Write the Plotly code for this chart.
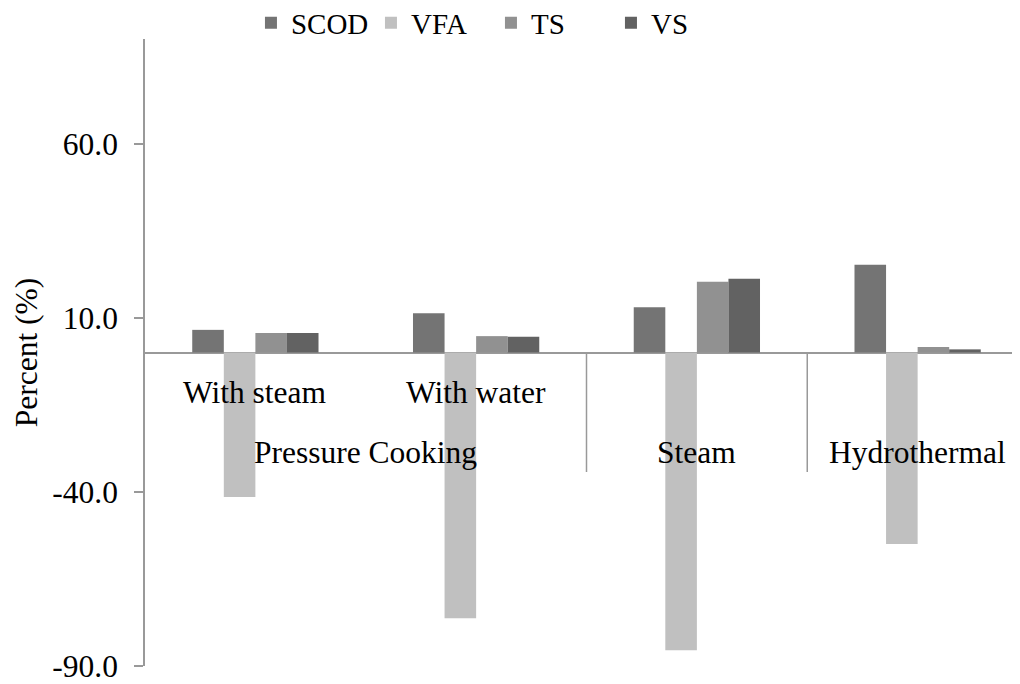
import plotly.graph_objects as go

categories = ["With steam", "With water", "Steam", "Hydrothermal"]
group_labels = ["Pressure Cooking", "Steam", "Hydrothermal"]
scod = [6.5, 11.3, 13.0, 25.2]
vfa = [-41.5, -76.3, -85.5, -55.0]
ts = [5.6, 4.7, 20.3, 1.6]
vs = [5.6, 4.5, 21.2, 0.9]
y_ticks = [-90, -40, 10, 60]
y_tick_labels = [f"{v:.1f}" for v in y_ticks]

series = [("SCOD", scod, "#747474"), ("VFA", vfa, "#c0c0c0"),
          ("TS", ts, "#919191"), ("VS", vs, "#626262")]

FONT = "Liberation Serif, Times New Roman, serif"
F = dict(family=FONT, size=31.5, color="black")
FL = dict(family=FONT, size=29, color="black")
fig = go.Figure()
for name, vals, col in series:
    fig.add_trace(go.Bar(x=categories, y=vals, name=name, marker_color=col,
                         marker_line_width=0))

fig.update_layout(
    width=1020, height=684,
    margin=dict(l=137, r=0, t=31, b=26, autoexpand=False),
    paper_bgcolor="white", plot_bgcolor="white",
    barmode="group", bargap=0.428, bargroupgap=0,
    font=F,
    legend=dict(orientation="h", x=0.12, xanchor="left", y=1.0255, yanchor="middle",
                font=FL, itemwidth=30, entrywidth=75, entrywidthmode="pixels"),
    showlegend=True,
)
fig.update_xaxes(range=[-0.5, 3.5], showticklabels=False, showgrid=False,
                 showline=False, ticks="", zeroline=False)
fig.update_yaxes(range=[-90, 90], tickvals=y_ticks, ticktext=y_tick_labels,
                 tickfont=F, ticklabelstandoff=10,
                 showgrid=False, showline=True, linecolor="#999999", linewidth=1.5,
                 ticks="outside", ticklen=9, tickcolor="#999999", tickwidth=1.5,
                 zeroline=True, zerolinecolor="#999999", zerolinewidth=2,
                 title=dict(text="Percent (%)", standoff=5, font=F))

# lower-level labels
for c in categories[:2]:
    fig.add_annotation(x=c, y=-11.6, text=c, showarrow=False, yanchor="middle", font=F)
# upper-level labels
fig.add_annotation(x=0.5, y=-28.8, text=group_labels[0], showarrow=False,
                   yanchor="middle", font=F)
fig.add_annotation(x=categories[2], y=-28.8, text=group_labels[1], showarrow=False,
                   yanchor="middle", font=F)
fig.add_annotation(x=categories[3], y=-28.8, text=group_labels[2], showarrow=False,
                   yanchor="middle", font=F)
for xd in [1.5, 2.5]:
    fig.add_shape(type="line", x0=xd, x1=xd, y0=0, y1=-34.3, xref="x", yref="y",
                  line=dict(color="#999999", width=1.5))

fig.write_html("out.html")
